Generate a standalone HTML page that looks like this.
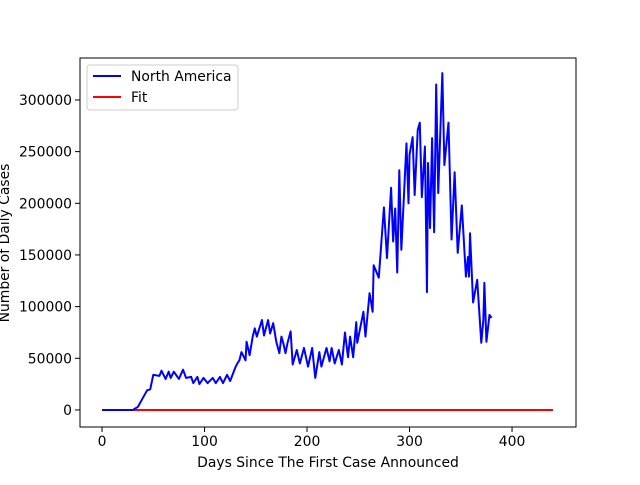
<!DOCTYPE html>
<html><head><meta charset="utf-8"><style>
body{margin:0;background:#fff;}
svg{font-family:"DejaVu Sans","Liberation Sans",sans-serif;}
</style></head><body>
<svg id="chart" width="640" height="480" xmlns="http://www.w3.org/2000/svg"></svg>
<script>
const days=[0,30,35,40,44,47,50,56,58,62,65,67,70,75,79,82,87,89,93,95,99,103,108,111,115,118,122,125,130,132,134,136,140,141,144,147,149,151,156,158,162,164,167,170,173,175,177,179,181,184,186,190,193,197,201,205,208,212,214,219,222,224,227,231,234,237,240,242,245,248,249,252,255,257,261,264,265,270,275,278,282,284,286,288,290,292,297,299,300,303,305,308,310,312,315,317,318,320,322,324,326,328,332,334,338,341,344,347,351,355,357,358,359,362,366,370,372,373,375,378,380];
const cases=[0,0,3000,12000,19000,20000,34000,33000,38000,30000,37000,31000,37000,30000,39000,31000,32000,26000,32000,25000,31000,26000,31000,26000,32000,26000,34000,28000,41000,45000,48000,56000,48000,66000,53000,71000,79000,71000,87000,72000,87000,74000,84000,66000,55000,71000,64000,55000,65000,76000,44000,58000,45000,60000,42000,60000,31000,56000,42000,60000,47000,60000,45000,58000,44000,75000,51000,71000,51000,85000,65000,80000,95000,71000,113000,95000,140000,128000,196000,147000,215000,163000,195000,133000,232000,155000,258000,200000,247000,264000,208000,271000,278000,206000,255000,114000,239000,176000,263000,172000,315000,210000,326000,237000,278000,165000,230000,152000,198000,129000,148000,129000,171000,104000,126000,65000,87000,123000,66000,92000,89000];
const fitDays=[0,440];
const fitVals=[0,0];
const xTicks=[0,100,200,300,400];
const yTicks=[0,50000,100000,150000,200000,250000,300000];

const L=80,R=576,T=58,B=427;
const xMin=-21.5,xMax=462.4,yMin=-16500,yMax=340600;
const X=d=>L+(d-xMin)/(xMax-xMin)*(R-L);
const Y=v=>B-(v-yMin)/(yMax-yMin)*(B-T);
const svg=document.getElementById('chart');
const NS='http://www.w3.org/2000/svg';
function mk(tag,attrs,parent){const e=document.createElementNS(NS,tag);for(const k in attrs)e.setAttribute(k,attrs[k]);(parent||svg).appendChild(e);return e;}

const fit=mk('polyline',{points:fitDays.map((d,i)=>X(d)+','+Y(fitVals[i])).join(' '),fill:'none',stroke:'#ff0000','stroke-width':2});


const na=mk('polyline',{points:days.map((d,i)=>X(d)+','+Y(cases[i])).join(' '),fill:'none',stroke:'#0000ff','stroke-width':2,'stroke-linejoin':'round'});



const fr=mk('rect',{x:L,y:T,width:R-L,height:B-T,fill:'none',stroke:'#000','stroke-width':1});



xTicks.forEach(t=>{
  const x=X(t);
  mk('line',{x1:x,x2:x,y1:B,y2:B+5,stroke:'#000','stroke-width':1});
  const tx=mk('text',{x:x,y:B+19,'font-size':13.9,'text-anchor':'middle'});
  tx.textContent=t;
  
  
});
yTicks.forEach(t=>{
  const y=Y(t);
  mk('line',{x1:L-5,x2:L,y1:y,y2:y,stroke:'#000','stroke-width':1});
  const tx=mk('text',{x:L-8,y:y+5,'font-size':13.9,'text-anchor':'end'});
  tx.textContent=t;
  
  
});
</script>
<svg width="640" height="480" style="position:absolute;left:0;top:0" xmlns="http://www.w3.org/2000/svg">
<text x="328" y="467" font-size="13.9" text-anchor="middle">Days Since The First Case Announced</text>
<text transform="translate(9,243) rotate(-90)" font-size="13.9" text-anchor="middle">Number of Daily Cases</text>
<g>
<rect x="87" y="65" width="151" height="45" rx="3" fill="#fff" fill-opacity="0.8" stroke="#ccc" stroke-width="1"/>
<line x1="93" x2="121" y1="76" y2="76" stroke="#0000ff" stroke-width="2"/>
<text x="131" y="81" font-size="13.9">North America</text>
<line x1="93" x2="121" y1="97" y2="97" stroke="#ff0000" stroke-width="2"/>
<text x="131" y="102" font-size="13.9">Fit</text>
</g>
</svg>
</body></html>
